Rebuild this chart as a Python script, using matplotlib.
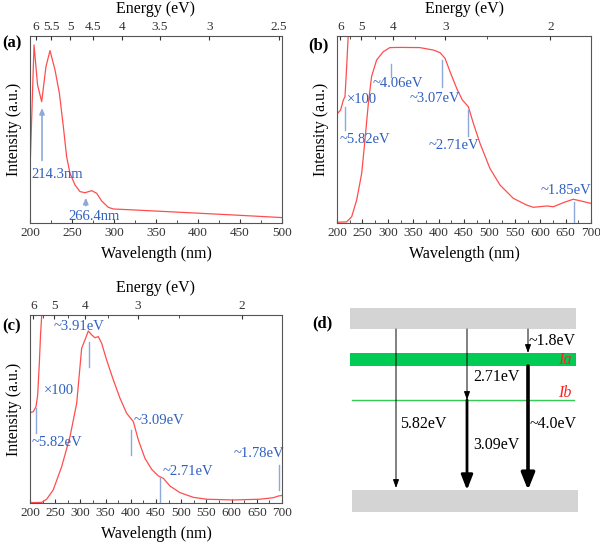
import numpy as np
import matplotlib
matplotlib.use("Agg")
import matplotlib.pyplot as plt
from matplotlib.patches import Rectangle

plt.rcParams['font.family'] = ['Liberation Serif', 'DejaVu Serif']
plt.rcParams['mathtext.fontset'] = 'stix'

RED = '#ff4d4d'
BLUE = '#2f5fbf'
LBLUE = '#8ea9d9'

# ---- panel (a): absorption ----
a_wl = [200, 204.8, 209, 213.9, 219, 223.8, 229.8, 235, 239.7, 243.6, 247.6, 253.6,
        259.5, 265.5, 273.4, 279.4, 285.3, 293.2, 299.2, 323, 362.7, 402.4, 442, 500]
a_int = [0.28, 0.952, 0.738, 0.649, 0.836, 0.922, 0.818, 0.693, 0.515, 0.355, 0.266, 0.203,
         0.168, 0.162, 0.173, 0.159, 0.118, 0.084, 0.075, 0.070, 0.061, 0.052, 0.043, 0.029]

# ---- panel (b): emission ----
b_wl = [200, 219, 228.9, 238.7, 248.6, 255, 261.7, 268, 278, 291, 304, 324, 363, 389.6,
        402.8, 412.6, 422.5, 435.6, 446.7, 458.5, 468.4, 481.5, 501, 520.9, 547, 573.4,
        586.5, 612.8, 625.9, 645.6, 665, 678.4, 700]
b_int = [0.004, 0.006, 0.034, 0.123, 0.266, 0.444, 0.64, 0.783, 0.872, 0.916, 0.938, 0.939,
         0.938, 0.925, 0.911, 0.881, 0.809, 0.72, 0.658, 0.622, 0.533, 0.426, 0.292, 0.203,
         0.132, 0.096, 0.084, 0.091, 0.087, 0.109, 0.127, 0.119, 0.105]
b_x100_wl = [200, 207, 212.5, 215.7, 219, 222, 224]
b_x100_int = [0.583, 0.604, 0.658, 0.676, 0.836, 1.0, 1.15]

# ---- panel (c): emission ----
c_wl = [200, 223, 233, 246, 262.8, 279.4, 292.6, 302.5, 309, 315.7, 322.4, 329, 335.6,
        342.2, 352, 365.4, 378.6, 391.8, 405, 415, 428, 441.4, 454.6, 464.6, 477.8,
        497.6, 524, 550.5, 603.5, 656, 682.8, 692.7, 700]
c_int = [0.002, 0.003, 0.02, 0.069, 0.193, 0.353, 0.53, 0.823, 0.867, 0.915, 0.894, 0.879,
         0.885, 0.849, 0.761, 0.654, 0.557, 0.477, 0.433, 0.335, 0.238, 0.179, 0.144,
         0.131, 0.09, 0.055, 0.03, 0.02, 0.016, 0.02, 0.028, 0.037, 0.04]
c_x100_wl = [200, 206.6, 211.9, 215.2, 218.5, 221, 223.8, 225]
c_x100_int = [0.48, 0.486, 0.512, 0.574, 0.743, 0.9, 1.02, 1.1]

# annotations: (text, text_x, text_y, line_x, line_y0, line_y1)
b_notes = [('~5.82eV', 206, 0.447, 215.7, 0.622, 0.497),
           ('~4.06eV', 270, 0.747, 306, 0.85, 0.783),
           ('~3.07eV', 343.7, 0.667, 406, 0.872, 0.729),
           ('~2.71eV', 380, 0.412, 458.5, 0.604, 0.465),
           ('~1.85eV', 600, 0.176, 667, 0.114, 0.007)]
c_notes = [('~3.91eV', 246, 0.941, 317.7, 0.858, 0.725),
           ('~5.82eV', 203, 0.321, 212, 0.504, 0.371),
           ('~3.09eV', 405, 0.441, 400.4, 0.388, 0.255),
           ('~2.71eV', 463, 0.167, 458, 0.14, 0.0),
           ('~1.78eV', 603, 0.264, 694.7, 0.202, 0.069)]

fig = plt.figure(figsize=(6, 5.43), dpi=100)


def style_axes(ax, xmax, xstep, energies, minor_e):
    ax.set_xlim(200, xmax)
    ax.set_ylim(0, 1)
    ax.set_yticks([])
    ax.set_xticks(np.arange(200, xmax + 1, xstep))
    ax.set_xticks(np.arange(200, xmax + 1, xstep / 2), minor=True)
    ax.tick_params(axis='x', which='both', direction='in', labelsize=9.5, pad=3, colors='#333333')
    ax.tick_params(axis='x', which='major', length=3)
    ax.tick_params(axis='x', which='minor', length=2)
    for s in ax.spines.values():
        s.set_color('#555555')
        s.set_linewidth(0.8)
    ax.set_xlabel('Wavelength (nm)', fontsize=11.5, labelpad=5)
    ax.set_ylabel('Intensity (a.u.)', fontsize=11.5, labelpad=6)
    top = ax.twiny()
    top.set_xlim(ax.get_xlim())
    top.set_xticks([1240 / e for e in energies])
    top.set_xticklabels([('%g' % e) for e in energies])
    top.set_xticks([1240 / e for e in minor_e], minor=True)
    top.tick_params(axis='x', which='both', direction='in', labelsize=9.5, pad=2, colors='#333333')
    top.tick_params(axis='x', which='major', length=3)
    top.tick_params(axis='x', which='minor', length=2)
    top.set_xlabel('Energy (eV)', fontsize=11.5, labelpad=6)
    for s in top.spines.values():
        s.set_visible(False)
    return top


# (a)
ax_a = fig.add_axes([0.05, 0.5893, 0.42, 0.3444])
ax_a.plot(a_wl, a_int, color=RED, lw=0.9)
style_axes(ax_a, 500, 50, [6, 5.5, 5, 4.5, 4, 3.5, 3, 2.5], [])
ax_a.annotate('', xy=(214.3, 0.63), xytext=(214.3, 0.32),
              arrowprops=dict(arrowstyle='-|>,head_length=0.35,head_width=0.15',
                              color=LBLUE, lw=1.2))
ax_a.text(202, 0.257, '214.3nm', color=BLUE, fontsize=10.5, va='center')
ax_a.annotate('', xy=(266.4, 0.15), xytext=(266.4, 0.078),
              arrowprops=dict(arrowstyle='-|>,head_length=0.35,head_width=0.15',
                              color=LBLUE, lw=1.2))
ax_a.text(245.6, 0.037, '266.4nm', color=BLUE, fontsize=10.5, va='center')
fig.text(0.003, 0.92, '(a)', fontsize=12, fontweight='bold', va='center')

# (b)
ax_b = fig.add_axes([0.5617, 0.5893, 0.4233, 0.3444])
ax_b.plot(b_wl, b_int, color=RED, lw=0.9)
ax_b.plot(b_x100_wl, b_x100_int, color=RED, lw=0.9, clip_on=True)
style_axes(ax_b, 700, 50, [6, 5, 4, 3, 2], [5.5, 4.5, 3.5, 2.5])
ax_b.text(219, 0.658, '×100', color=BLUE, fontsize=10.5, va='center')
for t, tx, ty, lx, y0, y1 in b_notes:
    ax_b.plot([lx, lx], [y0, y1], color=LBLUE, lw=1.0)
    ax_b.text(tx, ty, t, color=BLUE, fontsize=10.5, va='center')
fig.text(0.513, 0.917, '(b)', fontsize=12, fontweight='bold', va='center')

# (c)
ax_c = fig.add_axes([0.05, 0.0737, 0.42, 0.3462])
ax_c.plot(c_wl, c_int, color=RED, lw=0.9)
ax_c.plot(c_x100_wl, c_x100_int, color=RED, lw=0.9, clip_on=True)
style_axes(ax_c, 700, 50, [6, 5, 4, 3, 2], [5.5, 4.5, 3.5, 2.5])
ax_c.text(226.5, 0.601, '×100', color=BLUE, fontsize=10.5, va='center')
for t, tx, ty, lx, y0, y1 in c_notes:
    ax_c.plot([lx, lx], [y0, y1], color=LBLUE, lw=1.0)
    ax_c.text(tx, ty, t, color=BLUE, fontsize=10.5, va='center')
fig.text(0.003, 0.398, '(c)', fontsize=12, fontweight='bold', va='center')

# (d) energy level diagram, drawn in pixel-like coordinates
bands = [(350, 308, 226, 21, '#d4d4d4'),   # conduction band
         (352, 490, 226, 22, '#d4d4d4'),   # valence band
         (350, 353, 226, 13, '#00cc55')]   # Ia level
ib_y = 400
# arrows: (x, y_start, y_end, linewidth, head_len, head_w)
arrows = [(396, 329, 488, 0.7, 0.5, 0.18),
          (467, 329, 400, 0.7, 0.5, 0.18),
          (467, 400, 490, 2.0, 0.9, 0.35),
          (528, 329, 353, 0.7, 0.5, 0.18),
          (528, 366, 490, 2.6, 1.0, 0.4)]
labels_d = [(400, 424, '5.82eV'), (473, 377, '2.71eV'), (473, 445, '3.09eV'),
            (529, 341, '~1.8eV'), (530, 424, '~4.0eV')]

ax_d = fig.add_axes([0.5, 0.0, 0.5, 273 / 543])
ax_d.set_xlim(300, 600)
ax_d.set_ylim(543, 270)
ax_d.axis('off')
for x, y, w, h, c in bands:
    ax_d.add_patch(Rectangle((x, y), w, h, color=c, lw=0))
ax_d.plot([352, 574], [ib_y, ib_y], color='#33cc55', lw=1.0)
for x, y0, y1, lw, hl, hw in arrows:
    ax_d.annotate('', xy=(x, y1), xytext=(x, y0),
                  arrowprops=dict(arrowstyle='-|>,head_length=%g,head_width=%g' % (hl, hw),
                                  color='black', lw=lw, shrinkA=0, shrinkB=0))
for x, y, t in labels_d:
    ax_d.text(x, y, t, fontsize=11.5, va='center', ha='left')
ax_d.text(565, 360, 'Ia', color='#ff2020', fontsize=11.5, style='italic', ha='center', va='center')
ax_d.text(565, 393, 'Ib', color='#ff2020', fontsize=11.5, style='italic', ha='center', va='center')
ax_d.text(322, 323, '(d)', fontsize=12, fontweight='bold', ha='center', va='center')

fig.savefig('out.png', dpi=100)
